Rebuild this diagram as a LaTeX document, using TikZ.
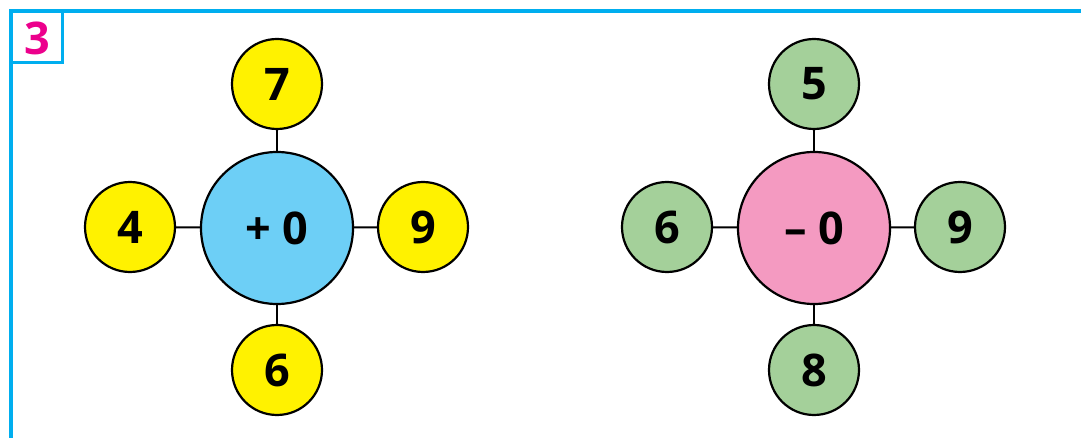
\documentclass[tikz,border=0pt]{standalone}
\usepackage{fontspec}
\setmainfont{Open Sans}
\definecolor{frameblue}{HTML}{00AEEF}
\definecolor{mag}{HTML}{EC008C}
\definecolor{yel}{HTML}{FFF200}
\definecolor{hubblue}{HTML}{6DCFF6}
\definecolor{hubpink}{HTML}{F49AC1}
\definecolor{grn}{HTML}{A4D09A}
\tikzset{
  numtxt/.style={font=\fontsize{45}{45}\selectfont\bfseries},
  small/.style={circle,draw=black,line width=2.2pt,minimum size=90pt,inner sep=0pt,numtxt},
  hub/.style={circle,draw=black,line width=2.2pt,minimum size=152pt,inner sep=0pt,numtxt},
  link/.style={draw=black,line width=2pt},
}
\begin{document}
\begin{tikzpicture}[x=1pt,y=-1pt]
\useasboundingbox (0,0) rectangle (1081,438);
% frame
\draw[frameblue,line width=4pt] (10.7,438) -- (10.7,11.3) -- (1081,11.3);
\draw[frameblue,line width=3pt] (10.7,62.5) -- (62.5,62.5) -- (62.5,11.3);
\node[text=mag,numtxt] (lbl) at (37,38) {3};
% left group
\node[hub,fill=hubblue] (h1) at (277,228) {+ 0};
\node[small,fill=yel] (a1) at (277,84) {7};
\node[small,fill=yel] (b1) at (130,227) {4};
\node[small,fill=yel] (c1) at (423,227) {9};
\node[small,fill=yel] (d1) at (277,370) {6};
\draw[link] (h1) -- (a1);
\draw[link] (h1) -- (b1);
\draw[link] (h1) -- (c1);
\draw[link] (h1) -- (d1);
% right group
\node[hub,fill=hubpink] (h2) at (814,228) {– 0};
\node[small,fill=grn] (a2) at (814,84) {5};
\node[small,fill=grn] (b2) at (667,227) {6};
\node[small,fill=grn] (c2) at (960,227) {9};
\node[small,fill=grn] (d2) at (814,370) {8};
\draw[link] (h2) -- (a2);
\draw[link] (h2) -- (b2);
\draw[link] (h2) -- (c2);
\draw[link] (h2) -- (d2);
\end{tikzpicture}
\end{document}
